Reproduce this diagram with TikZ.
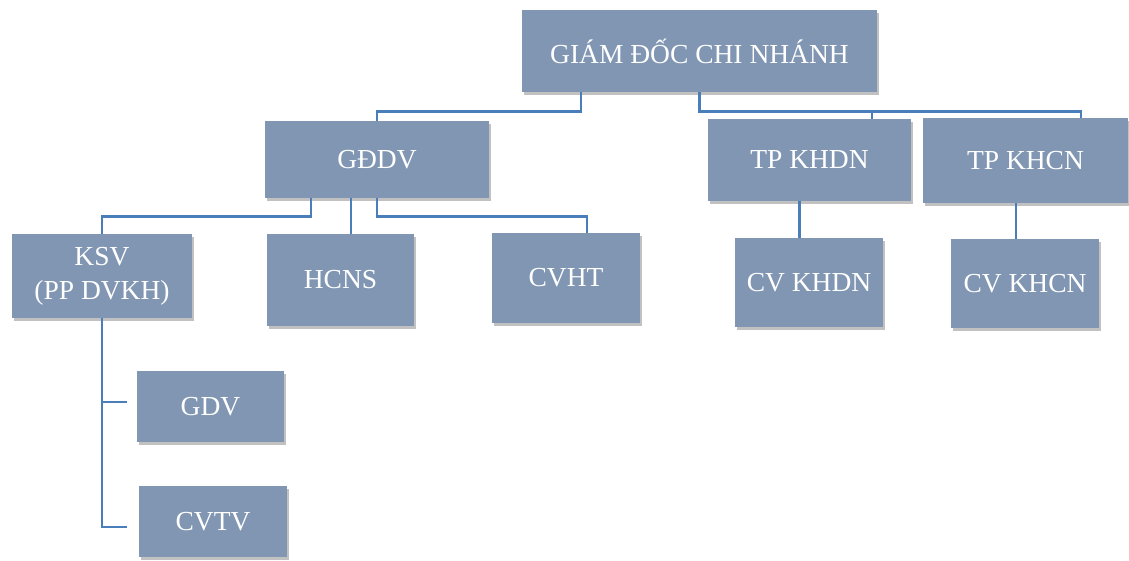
\documentclass[tikz,border=0pt]{standalone}
\usepackage{fontspec}
\setmainfont{Liberation Serif}
\usetikzlibrary{shadows}
\definecolor{boxfill}{RGB}{129,150,179}
\definecolor{linkblue}{RGB}{74,126,187}
\tikzset{
	unit/.style={fill=boxfill, text=white, inner sep=0pt, align=center,
		font=\fontsize{27.5}{32}\selectfont,
		drop shadow={shadow xshift=2pt, shadow yshift=-2.5pt, opacity=0.35, fill=black!70}},
	link/.style={draw=linkblue, line width=2.8pt}
}
\begin{document}
\begin{tikzpicture}[x=1pt, y=1pt]
\useasboundingbox (0,0) rectangle (1129,-560);
\node[unit, minimum width=355pt, minimum height=82pt] (gd) at (699.5,-51) {GIÁM ĐỐC CHI NHÁNH};
\node[unit, minimum width=224pt, minimum height=77pt] (gddv) at (377,-159.5) {GĐDV};
\node[unit, minimum width=203pt, minimum height=82pt] (tpkhdn) at (809.5,-160) {TP KHDN};
\node[unit, minimum width=205pt, minimum height=85pt] (tpkhcn) at (1025.5,-160.5) {TP KHCN};
\node[unit, minimum width=180pt, minimum height=84pt] (ksv) at (102,-276) {KSV\\[2pt](PP DVKH)};
\node[unit, minimum width=147pt, minimum height=92pt] (hcns) at (340.5,-280) {HCNS};
\node[unit, minimum width=148pt, minimum height=90pt] (cvht) at (566,-278) {CVHT};
\node[unit, minimum width=148pt, minimum height=89pt] (cvkhdn) at (809,-282.5) {CV KHDN};
\node[unit, minimum width=148pt, minimum height=89pt] (cvkhcn) at (1025,-283.5) {CV KHCN};
\node[unit, minimum width=147pt, minimum height=71pt] (gdv) at (210.5,-406.5) {GDV};
\node[unit, minimum width=148pt, minimum height=71pt] (cvtv) at (213,-521.5) {CVTV};

\draw[link] ([xshift=-118.5pt]gd.south) -- ++(0,-19) -| (gddv.north);
\draw[link] (gd.south) -- ++(0,-19) -| ([xshift=62.5pt]tpkhdn.north);
\draw[link] (gd.south) -- ++(0,-19) -| ([xshift=55.5pt]tpkhcn.north);
\draw[link] ([xshift=-66pt]gddv.south) -- ++(0,-18) -| (ksv.north);
\draw[link] ([xshift=-26pt]gddv.south) -- ([xshift=-26pt]gddv.south |- hcns.north);
\draw[link] (gddv.south) -- ++(0,-18) -| ([xshift=21pt]cvht.north);
\draw[link] ([xshift=-10pt]tpkhdn.south) -- ([xshift=-10pt]tpkhdn.south |- cvkhdn.north);
\draw[link] ([xshift=-9.5pt]tpkhcn.south) -- ([xshift=-9.5pt]tpkhcn.south |- cvkhcn.north);
\draw[link, shorten >=10pt] (ksv.south) |- ([yshift=4.5pt]gdv.west);
\draw[link, shorten >=12pt] (ksv.south) |- ([yshift=-5.5pt]cvtv.west);
\end{tikzpicture}
\end{document}
